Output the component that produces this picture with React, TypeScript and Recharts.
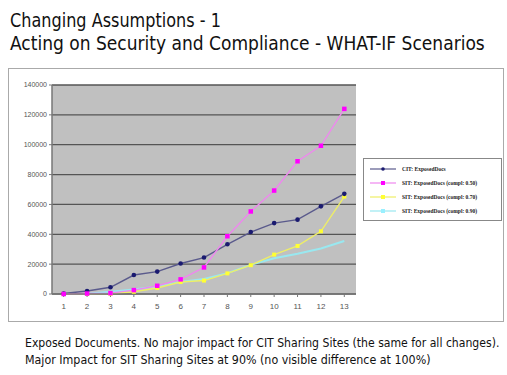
import React, { useLayoutEffect, useRef, useState } from "react";
import { LineChart, Line, XAxis, YAxis, CartesianGrid } from "recharts";

const categories = ["1", "2", "3", "4", "5", "6", "7", "8", "9", "10", "11", "12", "13"];
const citExposed = [300, 2000, 4500, 12700, 15000, 20400, 24400, 33300, 41500, 47500, 49800, 58700, 67100];
const sit050 = [0, 300, 600, 2600, 5500, 9800, 17800, 38700, 55300, 69300, 88900, 99300, 124000];
const sit070 = [0, 0, 200, 1500, 4000, 8000, 9000, 13800, 19300, 26400, 32200, 42000, 65300];
const sit090 = [0, 200, 1500, 3000, 5000, 8000, 10000, 14000, 19500, 24000, 27000, 30500, 35500];
const yTicks = [0, 20000, 40000, 60000, 80000, 100000, 120000, 140000];
const seriesNames = [
  "CIT: ExposedDocs",
  "SIT: ExposedDocs (compl: 0.50)",
  "SIT: ExposedDocs (compl: 0.70)",
  "SIT: ExposedDocs (compl: 0.90)",
];
const titleLines = ["Changing Assumptions - 1", "Acting on Security and Compliance - WHAT-IF Scenarios"];
const captionLines = [
  "Exposed Documents. No major impact for CIT Sharing Sites (the same for all changes).",
  "Major Impact  for SIT Sharing Sites at 90% (no visible difference at 100%)",
];

const data = categories.map((c, i) => ({
  cat: c,
  cit: citExposed[i],
  s50: sit050[i],
  s70: sit070[i],
  s90: sit090[i],
}));

const lineColors = ["#5a5a8c", "#ee88ee", "#eeee66", "#99e8f0"];
const markColors = ["#1a1a70", "#ff00ff", "#ffff33", "#99f0ff"];

const SquareDot = (color: string, size: number) => (props: any) => {
  const { cx, cy, index } = props;
  if (cx == null || cy == null) return null;
  return <rect key={index} x={cx - size / 2} y={cy - size / 2} width={size} height={size} fill={color} />;
};
const CircleDot = (color: string, r: number) => (props: any) => {
  const { cx, cy, index } = props;
  if (cx == null || cy == null) return null;
  return <circle key={index} cx={cx} cy={cy} r={r} fill={color} />;
};

const FONT = "'DejaVu Sans Condensed', 'Liberation Sans', sans-serif";

function FitText({ x, y, width, fontSize, text }: { x: number; y: number; width: number; fontSize: number; text: string }) {
  const ref = useRef<SVGTextElement>(null);
  const [sx, setSx] = useState(1);
  useLayoutEffect(() => {
    if (ref.current) {
      const w = ref.current.getComputedTextLength();
      if (w > 0) setSx(width / w);
    }
  }, [width, text, fontSize]);
  return (
    <text ref={ref} transform={`translate(${x},${y}) scale(${sx},1)`} fontFamily={FONT} fontSize={fontSize} fill="#111">
      {text}
    </text>
  );
}

export default function App() {
  return (
    <div style={{ position: "absolute", left: 0, top: 0, width: 507, height: 375, background: "#fff", overflow: "hidden" }}>
      <svg width={507} height={66} style={{ position: "absolute", left: 0, top: 0 }}>
        <FitText x={10} y={27} width={211} fontSize={19} text={titleLines[0]} />
        <FitText x={10} y={50} width={475} fontSize={19} text={titleLines[1]} />
      </svg>
      <div style={{ position: "absolute", left: 8, top: 68, width: 496, height: 254, border: "1px solid #aaa", boxSizing: "border-box" }} />
      <div style={{ position: "absolute", left: 0, top: 0 }}>
        <LineChart width={507} height={375} data={data} margin={{ top: 85, right: 151, bottom: 61, left: 10 }}>
          <CartesianGrid vertical={false} stroke="#555" strokeWidth={1.3} fill="#c0c0c0" />
          <XAxis
            dataKey="cat"
            scale="band"
            height={20}
            tick={{ fontSize: 8, fill: "#555", fontFamily: "'Liberation Sans', sans-serif" }}
            tickLine={{ stroke: "#777" }}
            axisLine={{ stroke: "#777", strokeWidth: 1.5 }}
            tickSize={3}
            tickMargin={6}
            interval={0}
          />
          <YAxis
            width={42}
            domain={[0, 140000]}
            ticks={yTicks}
            interval={0}
            tick={{ fontSize: 7, fill: "#555", fontFamily: "'Liberation Sans', sans-serif" }}
            tickLine={{ stroke: "#777" }}
            axisLine={{ stroke: "#777", strokeWidth: 1.5 }}
            tickSize={3}
          />
          <Line dataKey="s90" name={seriesNames[3]} stroke={lineColors[3]} strokeWidth={2} dot={false} isAnimationActive={false} />
          <Line dataKey="s70" name={seriesNames[2]} stroke={lineColors[2]} strokeWidth={1.4} dot={SquareDot(markColors[2], 4)} isAnimationActive={false} />
          <Line dataKey="cit" name={seriesNames[0]} stroke={lineColors[0]} strokeWidth={1.4} dot={CircleDot(markColors[0], 2.3)} isAnimationActive={false} />
          <Line dataKey="s50" name={seriesNames[1]} stroke={lineColors[1]} strokeWidth={1.4} dot={SquareDot(markColors[1], 4.5)} isAnimationActive={false} />
        </LineChart>
      </div>
      <div
        style={{
          position: "absolute",
          left: 363,
          top: 158,
          width: 139,
          height: 63,
          border: "1px solid #888",
          boxSizing: "border-box",
          background: "#fff",
          fontFamily: "'Liberation Serif', serif",
          fontSize: 5.5,
          fontWeight: "bold",
          color: "#222",
        }}
      >
        {seriesNames.map((n, i) => (
          <div key={n} style={{ position: "absolute", left: 0, top: 5 + i * 14, height: 10, width: 137, display: "flex", alignItems: "center" }}>
            <svg width={30} height={10} style={{ marginLeft: 4 }}>
              <line x1={2} y1={5} x2={28} y2={5} stroke={lineColors[i]} strokeWidth={1.2} />
              {i === 0 ? <circle cx={15} cy={5} r={1.8} fill={markColors[i]} /> : <rect x={13} y={3} width={4} height={4} fill={markColors[i]} />}
            </svg>
            <span style={{ marginLeft: 4, whiteSpace: "nowrap" }}>{n}</span>
          </div>
        ))}
      </div>
      <svg width={507} height={50} style={{ position: "absolute", left: 0, top: 325 }}>
        <FitText x={25} y={22} width={475} fontSize={12} text={captionLines[0]} />
        <FitText x={25} y={39} width={406} fontSize={12} text={captionLines[1]} />
      </svg>
    </div>
  );
}
